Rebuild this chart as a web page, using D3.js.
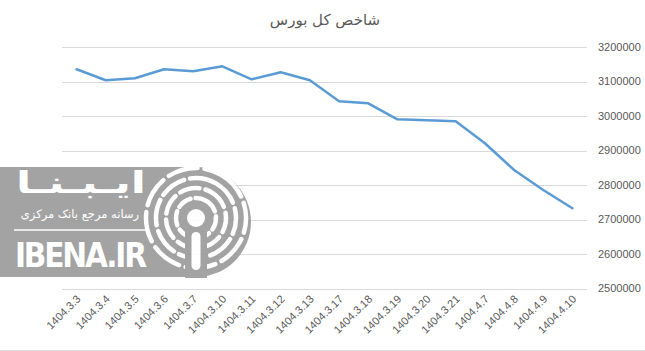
<!DOCTYPE html>
<html>
<head>
<meta charset="utf-8">
<script src="https://d3js.org/d3.v7.min.js"></script>
<style>
	body { margin: 0; background: #fff; }
	svg { display: block; background: #fff; }
	.grid line { stroke: #d9d9d9; stroke-width: 1; }
	.ylab text, .xlab text { fill: #595959; font-family: "Liberation Sans", Arial, sans-serif; font-size: 11px; }
	.title { fill: #595959; font-family: "DejaVu Sans", sans-serif; font-size: 15px; }
</style>
</head>
<body>
<svg id="chart" width="645" height="351"></svg>
<script>
// data
var dates = ["1404.3.3", "1404.3.4", "1404.3.5", "1404.3.6", "1404.3.7", "1404.3.10", "1404.3.11", "1404.3.12", "1404.3.13",
	"1404.3.17", "1404.3.18", "1404.3.19", "1404.3.20", "1404.3.21", "1404.4.7", "1404.4.8", "1404.4.9", "1404.4.10"];
var index = [3135400, 3103500, 3109300, 3135400, 3129600, 3144100, 3106400, 3126700, 3103500,
	3042600, 3036800, 2990400, 2987500, 2984600, 2920900, 2843500, 2785500, 2732500];
var yTicks = [2500000, 2600000, 2700000, 2800000, 2900000, 3000000, 3100000, 3200000];
var title = "شاخص کل بورس";

var svg = d3.select("#chart");
var plotLeft = 62, plotRight = 587, plotTop = 47, plotBottom = 288.5;

var x = d3.scalePoint().domain(dates).range([plotLeft, plotRight]).padding(0.5);
var y = d3.scaleLinear().domain([2500000, 3200000]).range([plotBottom, plotTop]);

// gridlines
svg.append("g").attr("class", "grid")
	.selectAll("line").data(yTicks).enter().append("line")
	.attr("x1", plotLeft).attr("x2", plotRight)
	.attr("y1", function(d) { return Math.round(y(d)) + 0.5; })
	.attr("y2", function(d) { return Math.round(y(d)) + 0.5; });

// bottom border
svg.append("line").attr("x1", 0).attr("x2", 645).attr("y1", 350.5).attr("y2", 350.5)
	.attr("stroke", "#d9d9d9");

// y labels on the right
svg.append("g").attr("class", "ylab")
	.selectAll("text").data(yTicks).enter().append("text")
	.attr("x", 598).attr("y", function(d) { return y(d); })
	.attr("dy", "0.35em")
	.text(function(d) { return d; });

// x labels, rotated
svg.append("g").attr("class", "xlab")
	.selectAll("text").data(dates).enter().append("text")
	.attr("transform", function(d) { return "translate(" + (x(d) + 2) + ",297) rotate(-45)"; })
	.attr("text-anchor", "end")
	.attr("dy", "0.35em")
	.text(function(d) { return d; });

// title
svg.append("text").attr("class", "title")
	.attr("x", 325).attr("y", 25).attr("text-anchor", "middle")
	.text(title);

// watermark logo
var logo = svg.append("g").attr("opacity", 0.9);
logo.append("path")
	.attr("d", "M0,167 H196 A55,55 0 0 1 196,277 H0 Z")
	.attr("fill", "#9a9a9a");
var cx = 196, cy = 218;
[[20, "14 5"], [30, "20 6"], [40, "26 6"], [50, "30 7"]].forEach(function(r) {
	logo.append("circle").attr("cx", cx).attr("cy", cy).attr("r", r[0])
		.attr("fill", "none").attr("stroke", "#fff").attr("stroke-width", 4.5)
		.attr("stroke-linecap", "round").attr("stroke-dasharray", r[1])
		.attr("transform", "rotate(-60," + cx + "," + cy + ")");
});
logo.append("rect").attr("x", cx - 11).attr("y", 222).attr("width", 22).attr("height", 56)
	.attr("fill", "#9a9a9a");
logo.append("circle").attr("cx", cx).attr("cy", cy).attr("r", 9).attr("fill", "#fff");
logo.append("rect").attr("x", cx - 4.5).attr("y", 232).attr("width", 9).attr("height", 38).attr("rx", 4.5)
	.attr("fill", "#fff");
logo.append("text").attr("x", 81).attr("y", 193).attr("text-anchor", "middle")
	.attr("fill", "#fff").attr("font-family", "DejaVu Sans").attr("font-weight", "bold").attr("font-size", 30)
	.attr("textLength", 130).attr("lengthAdjust", "spacingAndGlyphs")
	.text("ایـبـنـا");
logo.append("text").attr("x", 80).attr("y", 218).attr("text-anchor", "middle")
	.attr("direction", "rtl")
	.attr("fill", "#fff").attr("font-family", "DejaVu Sans").attr("font-size", 11.5)
	.text("رسانه مرجع بانک مرکزی");
logo.append("line").attr("x1", 14).attr("x2", 147).attr("y1", 230).attr("y2", 230)
	.attr("stroke", "#fff").attr("stroke-width", 1.5);
logo.append("text").attr("x", 15).attr("y", 267)
	.attr("fill", "#fff").attr("font-family", "DejaVu Sans Condensed").attr("font-weight", "bold").attr("font-size", 33)
	.attr("textLength", 132).attr("lengthAdjust", "spacing")
	.text("IBENA.IR");

// the line
var line = d3.line()
	.x(function(d, i) { return x(dates[i]); })
	.y(function(d) { return y(d); });
svg.append("path").datum(index)
	.attr("fill", "none").attr("stroke", "#5b9bd5").attr("stroke-width", 2.5)
	.attr("stroke-linejoin", "round").attr("stroke-linecap", "round")
	.attr("d", line);
</script>
</body>
</html>
